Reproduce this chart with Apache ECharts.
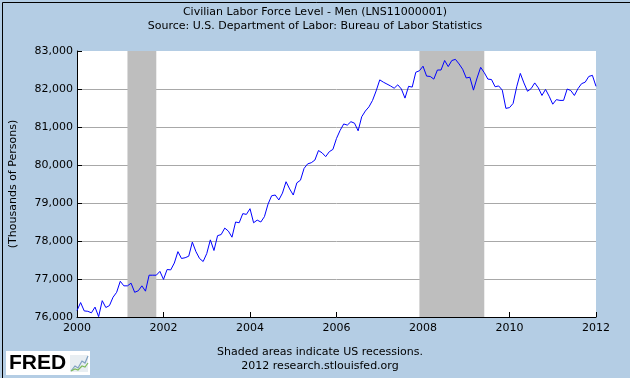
<!DOCTYPE html>
<html>
<head>
<meta charset="utf-8">
<script src="https://cdn.jsdelivr.net/npm/echarts@6/dist/echarts.min.js"></script>
<style>
html,body{margin:0;padding:0;background:#B4CDE4;}
#c{width:630px;height:378px;}
</style>
</head>
<body>
<div id="c"></div>
<script>
// Monthly data, Jan 2000 .. Jan 2012 (thousands of persons)
const startYear = 2000;
const values = [
76170,76380,76160,76150,76110,76260,76010,76430,76250,76300,76520,76650,
76940,76820,76820,76890,76650,76690,76820,76680,77100,77100,77100,77200,
76990,77250,77240,77420,77720,77540,77560,77600,77970,77720,77540,77460,
77670,78030,77750,78140,78170,78340,78260,78100,78500,78480,78720,78700,
78850,78480,78550,78500,78640,78970,79190,79210,79080,79260,79560,79370,
79210,79530,79600,79910,80030,80060,80130,80380,80320,80220,80350,80410,
80700,80910,81080,81050,81140,81100,80900,81270,81420,81530,81700,81950,
82240,82180,82130,82080,82020,82110,82000,81760,82070,82050,82440,82480,
82600,82340,82330,82260,82500,82500,82750,82590,82750,82780,82660,82520,
82290,82310,81970,82290,82570,82430,82260,82250,82060,82080,81970,81490,
81510,81620,82060,82410,82160,81940,82010,82160,82030,81830,81990,81810,
81600,81720,81700,81700,82000,81960,81830,82010,82140,82180,82330,82360,
82070
];
const recessions = [["2001-03","2001-11"],["2007-12","2009-06"]];
const xTickYears = [2000,2002,2004,2006,2008,2010,2012];
const yTicks = [76000,77000,78000,79000,80000,81000,82000,83000];
const titleLines = ["Civilian Labor Force Level - Men (LNS11000001)","Source: U.S. Department of Labor: Bureau of Labor Statistics"];
const footLines = ["Shaded areas indicate US recessions.","2012 research.stlouisfed.org"];
const yName = "(Thousands of Persons)";

function ym(s){const p=s.split("-");return +p[0]+(+p[1]-1)/12;}
const seriesData = values.map((v,i)=>[startYear+i/12, v]);
const FONT = "DejaVu Sans";

const chart = echarts.init(document.getElementById('c'), null, {renderer:'canvas'});
chart.setOption({
  animation:false,
  backgroundColor:'#B4CDE4',
  textStyle:{fontFamily:FONT},
  grid:{left:76,right:34,top:51,bottom:61,show:true,backgroundColor:'#FFFFFF',borderWidth:0},
  xAxis:{
    type:'value', min:xTickYears[0], max:xTickYears[xTickYears.length-1], interval:2,
    axisLine:{show:true,lineStyle:{color:'#000',width:1}},
    axisTick:{show:true,inside:true,length:5,lineStyle:{color:'#000'}},
    axisLabel:{color:'#000',fontSize:11,fontFamily:FONT,margin:6,formatter:v=>String(v)},
    splitLine:{show:false}
  },
  yAxis:{
    type:'value', min:yTicks[0], max:yTicks[yTicks.length-1], interval:1000,
    name:yName, nameLocation:'middle', nameRotate:90, nameGap:58,
    nameTextStyle:{color:'#000',fontSize:11,fontFamily:FONT},
    axisLine:{show:true,lineStyle:{color:'#000',width:1}},
    axisTick:{show:true,inside:true,length:5,lineStyle:{color:'#000'}},
    axisLabel:{color:'#000',fontSize:11,fontFamily:FONT,margin:4,
      formatter:v=>v.toLocaleString('en-US')},
    splitLine:{show:true,showMinLine:false,showMaxLine:false,lineStyle:{color:'#A8A8A8',width:1}}
  },
  series:[{
    type:'line', data:seriesData, showSymbol:false, symbol:'none',
    lineStyle:{color:'#0000FF',width:1}, z:3,
    markArea:{silent:true,itemStyle:{color:'#BEBEBE',opacity:1},
      data:recessions.map(r=>[{xAxis:ym(r[0])},{xAxis:ym(r[1])}])}
  }],
  graphic:[
    {type:'rect',left:0,top:0,shape:{x:0,y:0,width:629,height:377},style:{fill:null,stroke:'#000',lineWidth:1},silent:true,z:100,
      x:0.5,y:0.5},
    {type:'text',x:315,y:12,style:{text:titleLines[0],font:'11px "'+FONT+'"',fill:'#000',align:'center',verticalAlign:'middle'}},
    {type:'text',x:315,y:26,style:{text:titleLines[1],font:'11px "'+FONT+'"',fill:'#000',align:'center',verticalAlign:'middle'}},
    {type:'text',x:320,y:352,style:{text:footLines[0],font:'11px "'+FONT+'"',fill:'#000',align:'center',verticalAlign:'middle'}},
    {type:'text',x:320,y:366,style:{text:footLines[1],font:'11px "'+FONT+'"',fill:'#000',align:'center',verticalAlign:'middle'}},
    {type:'group',x:6,y:351,children:[
      {type:'rect',shape:{x:0,y:0,width:84,height:24},style:{fill:'#FFFFFF'}},
      {type:'text',x:3,y:12,style:{text:'FRED',font:'bold 21px "Liberation Sans"',fill:'#000',verticalAlign:'middle'}},
      {type:'rect',shape:{x:64,y:4,width:18,height:17},style:{fill:'#E8EEF2'}},
      {type:'polyline',shape:{points:[[65,20],[69,15],[72,17],[76,10],[79,12],[82,5]]},style:{stroke:'#7FA0C0',lineWidth:1.2,fill:null}},
      {type:'polyline',shape:{points:[[65,20],[69,18],[72,19],[76,15],[79,16],[82,12]]},style:{stroke:'#7DBA5A',lineWidth:1.2,fill:null}}
    ]}
  ]
});
</script>
</body>
</html>
